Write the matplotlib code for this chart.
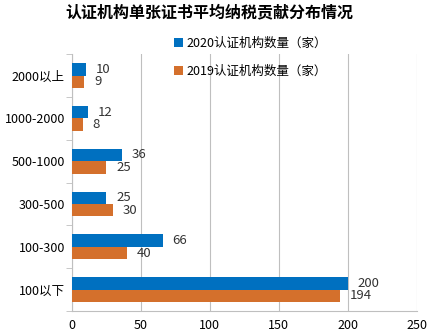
import matplotlib.pyplot as plt
import numpy as np

plt.rcParams['font.family'] = ['Noto Sans CJK SC', 'DejaVu Sans']

# 数据
categories = ['100以下', '100-300', '300-500', '500-1000', '1000-2000', '2000以上']
v2020 = [200, 66, 25, 36, 12, 10]
v2019 = [194, 40, 30, 25, 8, 9]
labels = ['2020认证机构数量（家）', '2019认证机构数量（家）']

blue = '#0070C0'
orange = '#D4702C'

fig = plt.figure(figsize=(4.28, 3.32), dpi=100)
ax = fig.add_axes([0.168, 0.063, 0.806, 0.774])

y = np.arange(len(categories))
h = 0.29
b1 = ax.barh(y + h / 2, v2020, height=h, color=blue, label=labels[0], zorder=3)
b2 = ax.barh(y - h / 2, v2019, height=h, color=orange, label=labels[1], zorder=3)

for bars in (b1, b2):
    ax.bar_label(bars, padding=7, fontsize=9.5, color='#333333')

ax.set_xlim(0, 250)
ax.set_ylim(-0.5, len(categories) - 0.5)
ax.set_xticks(range(0, 251, 50))
ax.set_yticks(y)
ax.set_yticklabels(categories)
ax.set_yticks(np.arange(-0.5, len(categories), 1), minor=True)
ax.tick_params(axis='y', which='major', length=0, pad=5, labelsize=9)
ax.tick_params(axis='y', which='minor', length=4, color='#bfbfbf')
ax.tick_params(axis='x', length=0, pad=6, labelsize=9)
ax.xaxis.grid(True, color='#bfbfbf', linewidth=0.8, zorder=0)

for s in ['top', 'right']:
    ax.spines[s].set_visible(False)
ax.spines['left'].set_color('#bfbfbf')
ax.spines['bottom'].set_color('#bfbfbf')

ax.legend(loc='upper left', bbox_to_anchor=(0.263, 1.11), frameon=False,
          fontsize=9, handlelength=0.7, handleheight=0.7, handletextpad=0.3,
          labelspacing=1.2)

fig.text(0.49, 0.963, '认证机构单张证书平均纳税贡献分布情况', ha='center', va='center',
         fontsize=11.5, fontweight='bold')

fig.savefig('out.png', dpi=100)
